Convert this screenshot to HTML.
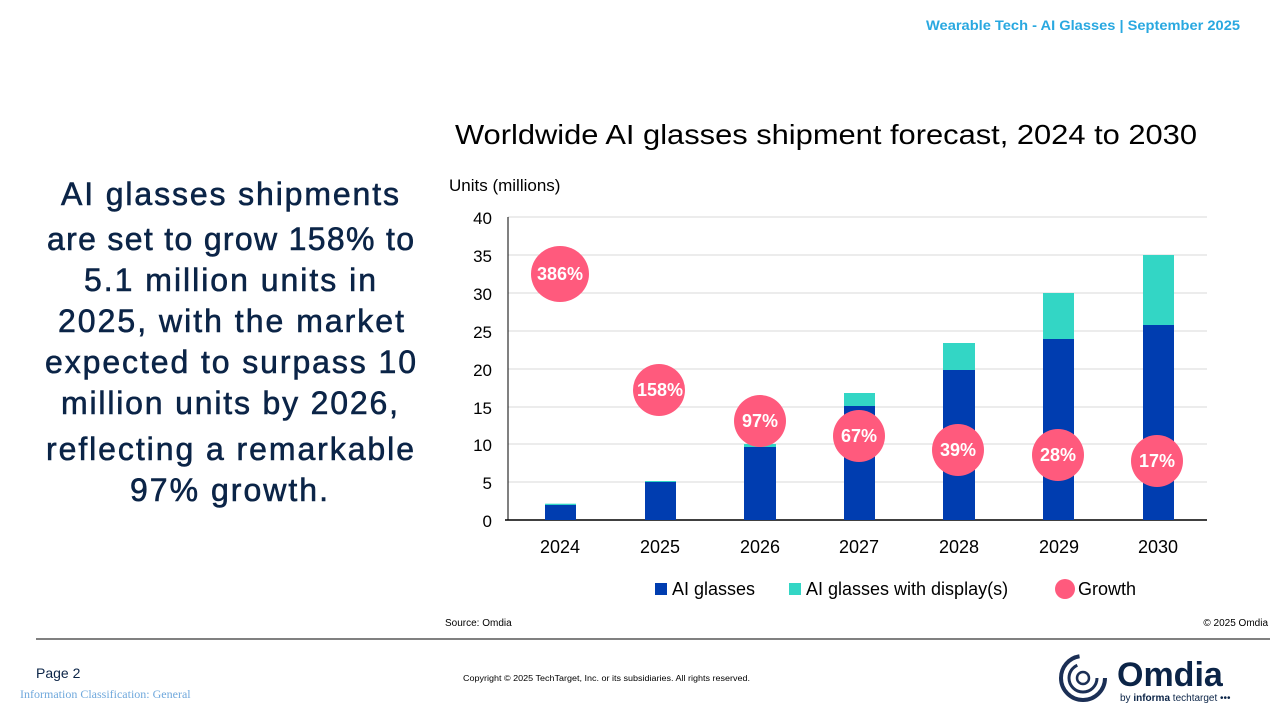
<!DOCTYPE html>
<html><head><meta charset="utf-8"><style>
body{margin:0;background:#fff;}
svg{display:block;font-family:"Liberation Sans",Arial,sans-serif;}
</style></head><body>
<svg width="1280" height="720" viewBox="0 0 1280 720">
<text x="926" y="30" font-size="14" fill="#29a8e0" font-weight="bold" textLength="314" lengthAdjust="spacingAndGlyphs">Wearable Tech - AI Glasses  | September 2025</text>
<g font-size="32" fill="#0b2447" stroke="#0b2447" stroke-width="0.6" lengthAdjust="spacingAndGlyphs">
<text x="61" y="205" textLength="338">AI glasses shipments</text>
<text x="47" y="250" textLength="367">are set to grow 158% to</text>
<text x="84" y="291" textLength="292">5.1 million units in</text>
<text x="58" y="332" textLength="346">2025, with the market</text>
<text x="45" y="373" textLength="371">expected to surpass 10</text>
<text x="61" y="414" textLength="337">million units by 2026,</text>
<text x="46" y="460" textLength="368">reflecting a remarkable</text>
<text x="130" y="501" textLength="198">97% growth.</text>
</g>
<text x="455" y="144" font-size="28" fill="#000" textLength="742" lengthAdjust="spacingAndGlyphs">Worldwide AI glasses shipment forecast, 2024 to 2030</text>
<text x="449" y="191" font-size="17" fill="#000">Units (millions)</text>
<g stroke="#d9d9d9" stroke-width="1">
<line x1="508" x2="1207" y1="217" y2="217"/><line x1="508" x2="1207" y1="255" y2="255"/>
<line x1="508" x2="1207" y1="293" y2="293"/><line x1="508" x2="1207" y1="331" y2="331"/>
<line x1="508" x2="1207" y1="369" y2="369"/><line x1="508" x2="1207" y1="407" y2="407"/>
<line x1="508" x2="1207" y1="444" y2="444"/><line x1="508" x2="1207" y1="482" y2="482"/>
</g>
<line x1="508" x2="508" y1="217" y2="520" stroke="#000"/>
<line x1="505" x2="1207" y1="520" y2="520" stroke="#000" stroke-width="1.5"/>
<g font-size="17" fill="#000" text-anchor="end">
<text x="492" y="224">40</text><text x="492" y="262">35</text><text x="492" y="300">30</text>
<text x="492" y="338">25</text><text x="492" y="376">20</text><text x="492" y="414">15</text>
<text x="492" y="451">10</text><text x="492" y="489">5</text><text x="492" y="527">0</text>
</g>
<g fill="#003db0">
<rect x="545" y="505" width="31" height="15"/><rect x="645" y="482" width="31" height="38"/>
<rect x="744" y="447" width="32" height="73"/><rect x="844" y="406" width="31" height="114"/>
<rect x="943" y="370" width="32" height="150"/><rect x="1043" y="339" width="31" height="181"/>
<rect x="1143" y="325" width="31" height="195"/>
</g>
<g fill="#33d6c5">
<rect x="545" y="503.7" width="31" height="1.3"/><rect x="645" y="481" width="31" height="1"/>
<rect x="744" y="444" width="32" height="3"/><rect x="844" y="393" width="31" height="13"/>
<rect x="943" y="343" width="32" height="27"/><rect x="1043" y="293" width="31" height="46"/>
<rect x="1143" y="255" width="31" height="70"/>
</g>
<g fill="#ff5a7d">
<ellipse cx="560" cy="274" rx="29" ry="28"/><ellipse cx="659" cy="390" rx="26" ry="26"/>
<ellipse cx="760" cy="421" rx="26" ry="26"/><ellipse cx="859" cy="436" rx="26" ry="26"/>
<ellipse cx="958" cy="450" rx="26" ry="26"/><ellipse cx="1058" cy="455" rx="26" ry="26"/>
<ellipse cx="1157" cy="461" rx="26" ry="26"/>
</g>
<g font-size="18" fill="#fff" font-weight="bold" text-anchor="middle">
<text x="560" y="280">386%</text><text x="660" y="396">158%</text><text x="760" y="427">97%</text>
<text x="859" y="442">67%</text><text x="958" y="456">39%</text><text x="1058" y="461">28%</text>
<text x="1157" y="467">17%</text>
</g>
<g font-size="18" fill="#000" text-anchor="middle">
<text x="560" y="553">2024</text><text x="660" y="553">2025</text><text x="760" y="553">2026</text>
<text x="859" y="553">2027</text><text x="959" y="553">2028</text><text x="1059" y="553">2029</text>
<text x="1158" y="553">2030</text>
</g>
<rect x="655" y="583" width="12" height="12" fill="#003db0"/>
<text x="672" y="595" font-size="18">AI glasses</text>
<rect x="789" y="583" width="12" height="12" fill="#33d6c5"/>
<text x="806" y="595" font-size="18">AI glasses with display(s)</text>
<circle cx="1065" cy="589" r="10" fill="#ff5a7d"/>
<text x="1078" y="595" font-size="18">Growth</text>
<text x="445" y="626" font-size="10">Source: Omdia</text>
<text x="1268" y="626" font-size="10" text-anchor="end">© 2025 Omdia</text>
<line x1="36" x2="1270" y1="639" y2="639" stroke="#000" stroke-width="1"/>
<text x="36" y="678" font-size="14" fill="#0b2447">Page 2</text>
<text x="20" y="698" font-size="12" fill="#6fa8dc" font-family="Liberation Serif,serif">Information Classification: General</text>
<text x="463" y="681" font-size="8" fill="#000" textLength="287" lengthAdjust="spacingAndGlyphs">Copyright © 2025 TechTarget, Inc. or its subsidiaries. All rights reserved.</text>
<g fill="none" stroke="#1b2f55">
<circle cx="1083" cy="678" r="22" stroke-width="4" stroke-dasharray="100 40"/>
<circle cx="1083" cy="678" r="14" stroke-width="3" stroke-dasharray="60 30"/>
<circle cx="1083" cy="678" r="6" stroke-width="2.5"/>
</g>
<text x="1117" y="686" font-size="34" font-weight="bold" fill="#0b2447">Omdia</text>
<text x="1120" y="701" font-size="10" fill="#0b2447">by <tspan font-weight="bold">informa</tspan> techtarget •••</text>
</svg>
</body></html>
